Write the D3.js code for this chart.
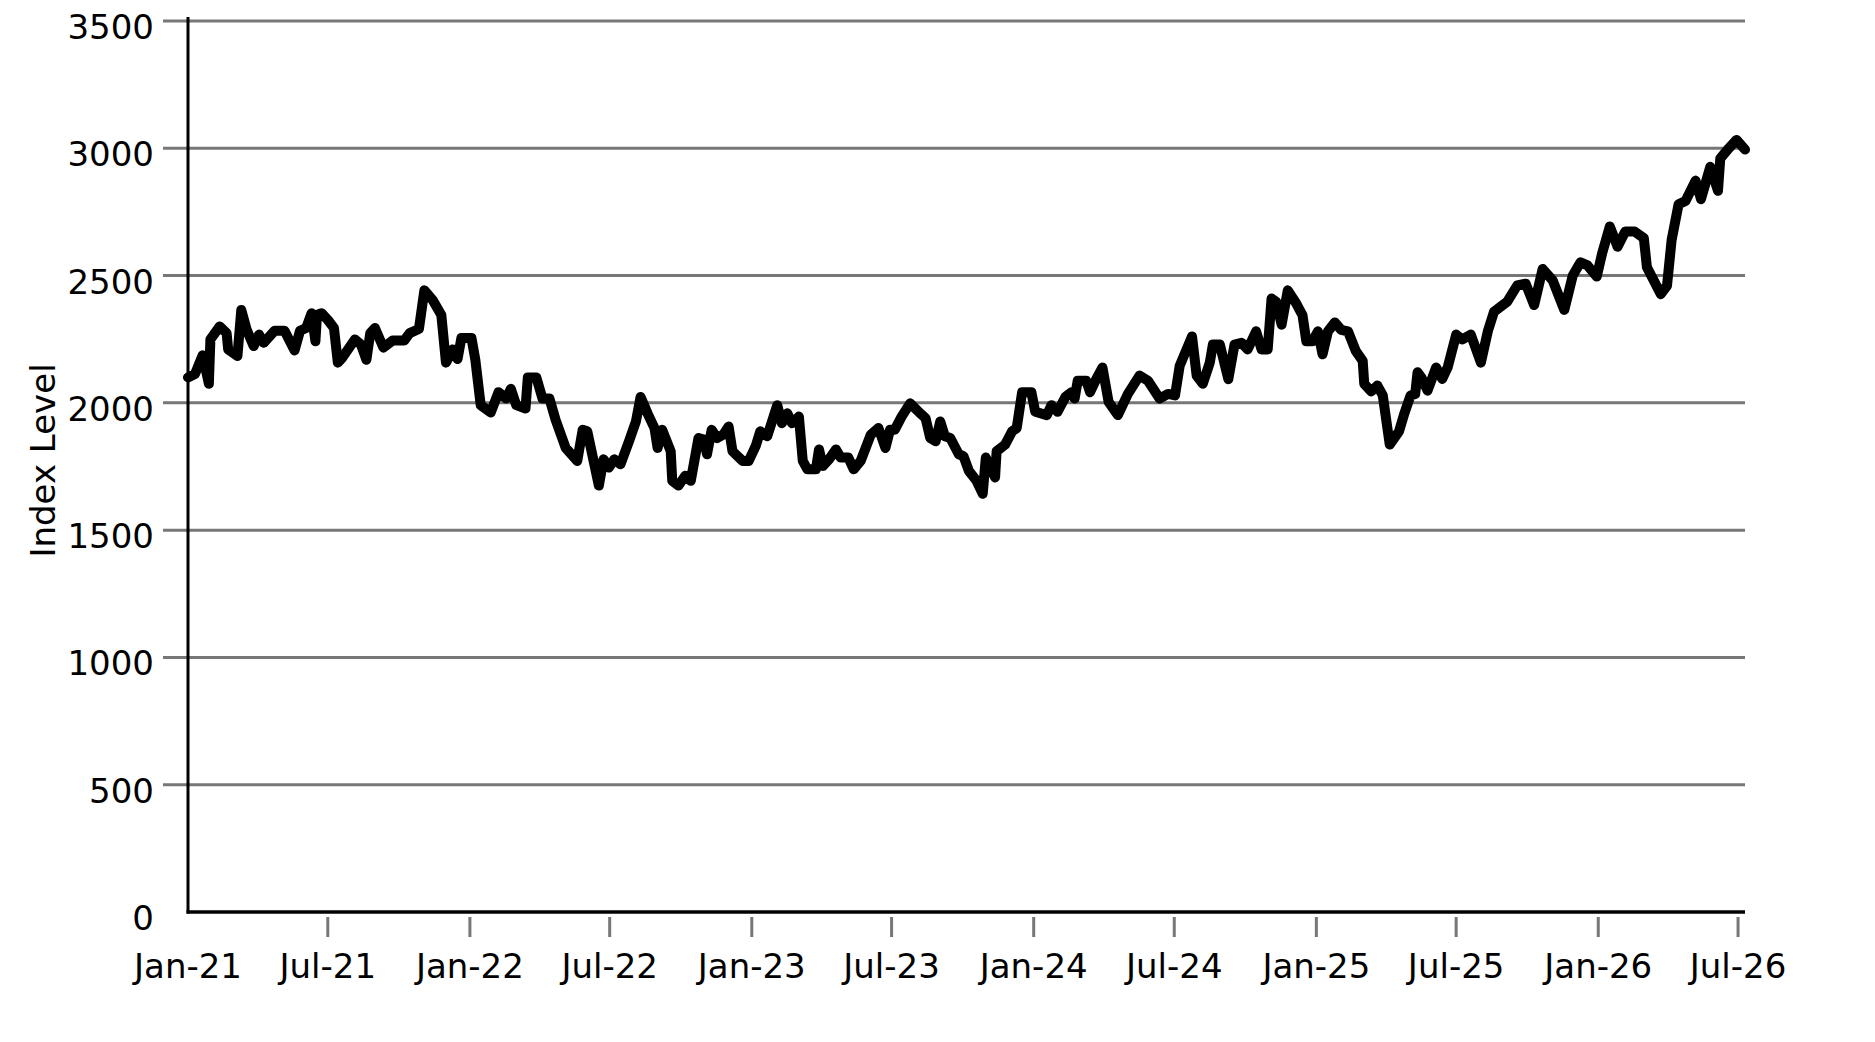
<!DOCTYPE html>
<html>
<head>
<meta charset="utf-8">
<script src="https://cdn.jsdelivr.net/npm/d3@7"></script>
<style>
	html, body { margin: 0; padding: 0; background: #fff; }
	svg { display: block; font-family: "DejaVu Sans", sans-serif; }
</style>
</head>
<body>
<svg id="chart"></svg>
<script>
var dates = [
	'2021-01-01', '2021-01-10', '2021-01-20', '2021-01-28', '2021-01-30', '2021-02-11', '2021-02-20', '2021-02-22',
	'2021-03-06', '2021-03-11', '2021-03-18', '2021-03-27', '2021-04-03', '2021-04-09', '2021-04-23', '2021-05-06',
	'2021-05-19', '2021-05-26', '2021-06-03', '2021-06-10', '2021-06-15', '2021-06-17', '2021-06-23', '2021-07-01',
	'2021-07-09', '2021-07-14', '2021-07-20', '2021-08-05', '2021-08-13', '2021-08-20', '2021-08-25', '2021-08-31',
	'2021-09-11', '2021-09-23', '2021-10-08', '2021-10-15', '2021-10-27', '2021-11-03', '2021-11-14', '2021-11-25',
	'2021-12-01', '2021-12-10', '2021-12-16', '2021-12-21', '2022-01-03', '2022-01-08', '2022-01-15', '2022-01-28',
	'2022-02-07', '2022-02-17', '2022-02-23', '2022-03-02', '2022-03-14', '2022-03-17', '2022-03-28', '2022-04-05',
	'2022-04-14', '2022-04-22', '2022-05-05', '2022-05-20', '2022-05-27', '2022-06-02', '2022-06-17', '2022-06-23',
	'2022-06-30', '2022-07-07', '2022-07-15', '2022-07-26', '2022-08-04', '2022-08-10', '2022-08-19', '2022-08-28',
	'2022-09-01', '2022-09-07', '2022-09-18', '2022-09-20', '2022-09-28', '2022-10-07', '2022-10-14', '2022-10-24',
	'2022-10-31', '2022-11-04', '2022-11-10', '2022-11-17', '2022-11-25', '2022-12-02', '2022-12-07', '2022-12-20',
	'2022-12-28', '2023-01-06', '2023-01-12', '2023-01-21', '2023-02-03', '2023-02-09', '2023-02-16', '2023-02-22',
	'2023-03-03', '2023-03-08', '2023-03-14', '2023-03-25', '2023-03-29', '2023-04-03', '2023-04-11', '2023-04-20',
	'2023-04-26', '2023-05-06', '2023-05-13', '2023-05-22', '2023-06-04', '2023-06-14', '2023-06-23', '2023-06-29',
	'2023-07-05', '2023-07-14', '2023-07-25', '2023-08-07', '2023-08-14', '2023-08-20', '2023-08-27', '2023-09-02',
	'2023-09-08', '2023-09-15', '2023-09-26', '2023-10-02', '2023-10-09', '2023-10-19', '2023-10-27', '2023-10-31',
	'2023-11-12', '2023-11-14', '2023-11-25', '2023-12-04', '2023-12-10', '2023-12-17', '2023-12-29', '2024-01-03',
	'2024-01-18', '2024-01-24', '2024-02-01', '2024-02-11', '2024-02-19', '2024-02-23', '2024-02-27', '2024-03-09',
	'2024-03-14', '2024-03-22', '2024-03-30', '2024-04-07', '2024-04-19', '2024-05-02', '2024-05-17', '2024-05-28',
	'2024-06-12', '2024-06-23', '2024-07-02', '2024-07-08', '2024-07-24', '2024-07-30', '2024-08-07', '2024-08-16',
	'2024-08-20', '2024-08-29', '2024-09-09', '2024-09-17', '2024-09-26', '2024-10-04', '2024-10-15', '2024-10-22',
	'2024-10-30', '2024-11-04', '2024-11-10', '2024-11-17', '2024-11-25', '2024-12-06', '2024-12-14', '2024-12-19',
	'2024-12-27', '2025-01-03', '2025-01-09', '2025-01-16', '2025-01-25', '2025-02-02', '2025-02-11', '2025-02-21',
	'2025-03-02', '2025-03-04', '2025-03-13', '2025-03-21', '2025-03-28', '2025-04-06', '2025-04-18', '2025-04-25',
	'2025-05-03', '2025-05-09', '2025-05-12', '2025-05-17', '2025-05-25', '2025-06-05', '2025-06-13', '2025-06-20',
	'2025-07-01', '2025-07-09', '2025-07-20', '2025-08-02', '2025-08-11', '2025-08-19', '2025-09-05', '2025-09-18',
	'2025-09-29', '2025-10-10', '2025-10-21', '2025-11-03', '2025-11-18', '2025-11-29', '2025-12-09', '2025-12-18',
	'2025-12-30', '2026-01-06', '2026-01-16', '2026-01-26', '2026-02-05', '2026-02-17', '2026-03-01', '2026-03-05',
	'2026-03-23', '2026-03-31', '2026-04-06', '2026-04-15', '2026-04-24', '2026-05-07', '2026-05-14', '2026-05-26',
	'2026-06-05', '2026-06-08', '2026-06-19', '2026-06-29', '2026-07-10'
];

var levels = [
	2100, 2113, 2187, 2075, 2249, 2300, 2274, 2210,
	2184, 2365, 2287, 2223, 2268, 2236, 2283, 2283,
	2206, 2283, 2294, 2352, 2242, 2345, 2352, 2326,
	2294, 2158, 2178, 2249, 2229, 2169, 2274, 2294,
	2217, 2245, 2245, 2274, 2290, 2442, 2403, 2345,
	2158, 2210, 2172, 2255, 2255, 2170, 1991, 1962,
	2042, 2017, 2055, 1991, 1978, 2100, 2100, 2017,
	2017, 1933, 1823, 1772, 1894, 1888, 1675, 1778,
	1746, 1778, 1759, 1849, 1927, 2023, 1959, 1901,
	1823, 1894, 1810, 1694, 1675, 1714, 1694, 1862,
	1856, 1798, 1894, 1862, 1875, 1907, 1810, 1772,
	1772, 1830, 1888, 1869, 1991, 1920, 1959, 1920,
	1946, 1772, 1739, 1739, 1817, 1752, 1778, 1817,
	1785, 1785, 1739, 1772, 1875, 1901, 1823, 1894,
	1894, 1946, 1998, 1959, 1940, 1862, 1849, 1927,
	1869, 1862, 1798, 1791, 1733, 1694, 1643, 1785,
	1707, 1810, 1836, 1888, 1901, 2042, 2042, 1965,
	1952, 1991, 1965, 2023, 2042, 2017, 2087, 2087,
	2042, 2093, 2139, 2004, 1952, 2035, 2107, 2087,
	2017, 2035, 2029, 2145, 2261, 2107, 2075, 2158,
	2229, 2229, 2093, 2229, 2236, 2210, 2281, 2210,
	2210, 2410, 2397, 2307, 2442, 2390, 2345, 2242,
	2242, 2281, 2191, 2281, 2316, 2287, 2281, 2204,
	2165, 2075, 2045, 2068, 2029, 1836, 1888, 1959,
	2029, 2035, 2120, 2100, 2048, 2139, 2094, 2139,
	2268, 2249, 2268, 2158, 2281, 2358, 2397, 2461,
	2468, 2384, 2526, 2481, 2365, 2500, 2552, 2540,
	2496, 2587, 2693, 2613, 2673, 2673, 2647, 2533,
	2427, 2460, 2640, 2780, 2793, 2873, 2800, 2927,
	2833, 2960, 3000, 3033, 2995
];

var yTicks = [0, 500, 1000, 1500, 2000, 2500, 3000, 3500];

var xTicks = ['2021-01-01', '2021-07-01', '2022-01-01', '2022-07-01', '2023-01-01', '2023-07-01',
	'2024-01-01', '2024-07-01', '2025-01-01', '2025-07-01', '2026-01-01', '2026-07-01'];

var xTickLabels = ['Jan-21', 'Jul-21', 'Jan-22', 'Jul-22', 'Jan-23', 'Jul-23',
	'Jan-24', 'Jul-24', 'Jan-25', 'Jul-25', 'Jan-26', 'Jul-26'];

var yLabel = 'Index Level';

var parseDate = d3.timeParse('%Y-%m-%d');

var series = dates.map(function(d, i) {
	return { date: parseDate(d), value: levels[i] };
});

var tickDates = xTicks.map(parseDate);

// set the dimensions and margins of the graph
var width = 1875,
	height = 1042,
	margin = {top: 21, right: 130, bottom: 130, left: 188};

var gridColor = '#777777',
	fontSize = 34;

var svg = d3.select('#chart')
	.attr('width', width)
	.attr('height', height);

var x = d3.scaleTime()
	.domain(d3.extent(series, function(d) { return d.date; }))
	.range([margin.left, width - margin.right]);

var y = d3.scaleLinear()
	.domain([0, 3500])
	.range([height - margin.bottom, margin.top]);

// horizontal grid lines, running a little past the y axis as ticks
svg.append('g')
	.attr('class', 'grid')
	.selectAll('line')
	.data(yTicks.filter(function(d) { return d > 0; }))
	.enter()
	.append('line')
	.attr('x1', margin.left - 25)
	.attr('x2', width - margin.right)
	.attr('y1', function(d) { return y(d); })
	.attr('y2', function(d) { return y(d); })
	.style('stroke', gridColor)
	.style('stroke-width', 3);

svg.append('g')
	.attr('class', 'y-labels')
	.selectAll('text')
	.data(yTicks)
	.enter()
	.append('text')
	.attr('x', margin.left - 34)
	.attr('y', function(d) { return y(d) + 18; })
	.attr('text-anchor', 'end')
	.style('font-size', fontSize + 'px')
	.style('fill', '#000')
	.text(function(d) { return d; });

// x ticks sit just below the axis, the first one is left out
svg.append('g')
	.attr('class', 'x-ticks')
	.selectAll('line')
	.data(tickDates.slice(1))
	.enter()
	.append('line')
	.attr('x1', function(d) { return x(d); })
	.attr('x2', function(d) { return x(d); })
	.attr('y1', y(0) + 5)
	.attr('y2', y(0) + 25)
	.style('stroke', gridColor)
	.style('stroke-width', 3);

svg.append('g')
	.attr('class', 'x-labels')
	.selectAll('text')
	.data(tickDates)
	.enter()
	.append('text')
	.attr('x', function(d) { return x(d); })
	.attr('y', y(0) + 66)
	.attr('text-anchor', 'middle')
	.style('font-size', fontSize + 'px')
	.style('fill', '#000')
	.text(function(d, i) { return xTickLabels[i]; });

// axis lines
svg.append('line')
	.attr('x1', margin.left)
	.attr('x2', margin.left)
	.attr('y1', margin.top - 4)
	.attr('y2', y(0) + 1.5)
	.style('stroke', '#000')
	.style('stroke-width', 3);

svg.append('line')
	.attr('x1', margin.left - 1.5)
	.attr('x2', width - margin.right)
	.attr('y1', y(0))
	.attr('y2', y(0))
	.style('stroke', '#000')
	.style('stroke-width', 3.5);

svg.append('text')
	.attr('transform', 'translate(55,' + ((y(0) + y(3500)) / 2 - 6) + ') rotate(-90)')
	.attr('text-anchor', 'middle')
	.style('font-size', fontSize + 'px')
	.style('fill', '#000')
	.text(yLabel);

var line = d3.line()
	.x(function(d) { return x(d.date); })
	.y(function(d) { return y(d.value); });

svg.append('path')
	.datum(series)
	.attr('class', 'index-line')
	.attr('d', line)
	.style('fill', 'none')
	.style('stroke', '#000')
	.style('stroke-width', 10)
	.style('stroke-linejoin', 'round')
	.style('stroke-linecap', 'round');
</script>
</body>
</html>
